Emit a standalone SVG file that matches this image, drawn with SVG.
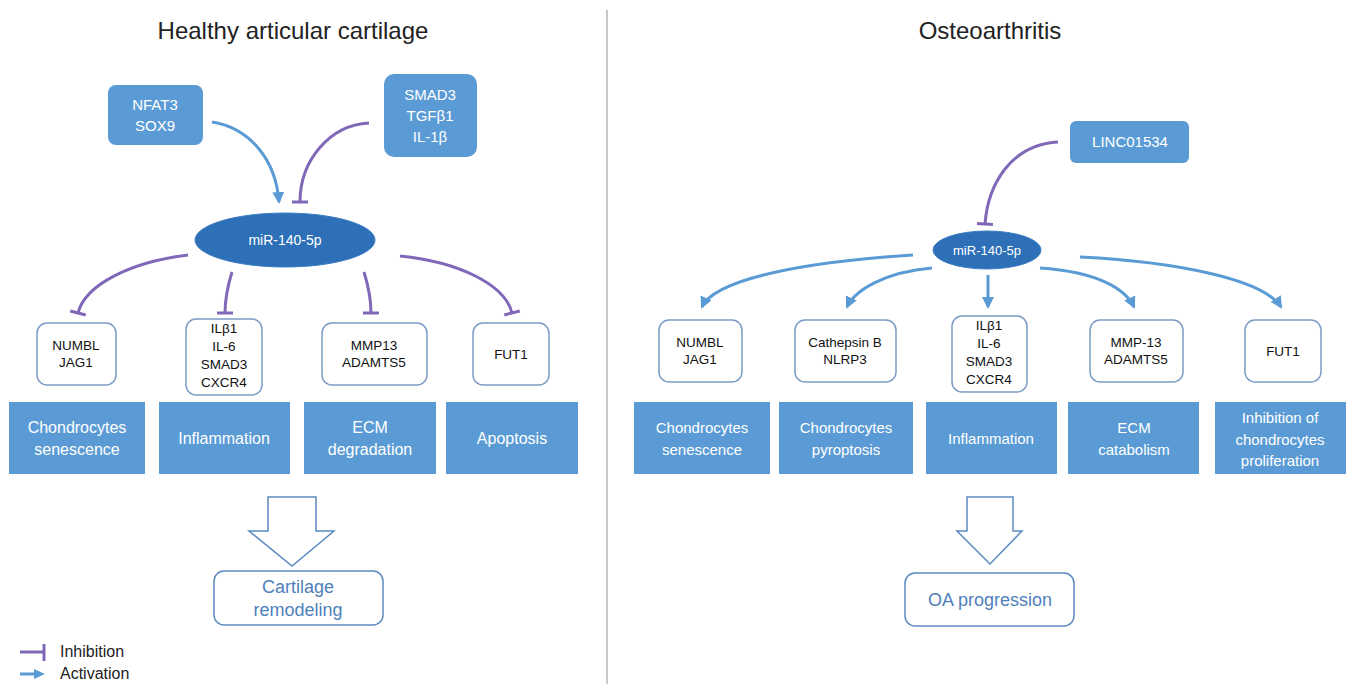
<svg xmlns="http://www.w3.org/2000/svg" width="1349" height="684" viewBox="0 0 1349 684">
<defs>
<style>
text{font-family:"Liberation Sans","Open Sans",sans-serif;text-anchor:middle}
.title{font-size:24px;fill:#222}
.bf{fill:#5b9bd5}
.bt{fill:#fff;font-size:15px}
.bl{fill:#fff;font-size:16px}
.bt2{fill:#fff;font-size:15px}
.sb{fill:#fff;stroke:#7c9cc6;stroke-width:1.5}
.st{fill:#111;font-size:13.5px}
.ell{fill:#2e70b8;stroke:#3a7cc2;stroke-width:1}
.inh{fill:none;stroke:#8068b8;stroke-width:3;marker-end:url(#bar)}
.act{fill:none;stroke:#5b9bd5;stroke-width:3;marker-end:url(#arr)}
.hol{fill:#fff;stroke:#5b8ac0;stroke-width:1.5}
.ot{fill:#4f7fba;font-size:18px}
.lg{fill:#222;font-size:16px;text-anchor:start}
</style>
<marker id="bar" markerUnits="userSpaceOnUse" markerWidth="6" markerHeight="22" refX="3" refY="11" orient="auto">
<path d="M3,3 L3,19" stroke="#8068b8" stroke-width="3"/>
</marker>
<marker id="arr" markerUnits="userSpaceOnUse" markerWidth="14" markerHeight="12" refX="10" refY="6" orient="auto">
<path d="M0,0 L12,6 L0,12 z" fill="#5b9bd5"/>
</marker>
</defs>
<rect width="1349" height="684" fill="#fff"/>
<line x1="607" y1="10" x2="607" y2="684" stroke="#c8c8c8" stroke-width="2"/>
<text class="title" x="293" y="39">Healthy articular cartilage</text>
<text class="title" x="990" y="39">Osteoarthritis</text>

<g id="connectors">
<path class="act" d="M212,122 C250,128 276,160 279,202"/>
<path class="inh" d="M369,123 C330,125 300,160 300,202"/>
<path class="inh" d="M188,255 C130,262 85,285 78,313"/>
<path class="inh" d="M232,272 C228,285 225,300 225,313"/>
<path class="inh" d="M364,272 C368,285 371,300 371,313"/>
<path class="inh" d="M400,256 C460,262 505,285 512,313"/>
<path class="inh" d="M1058,142 C1010,145 988,185 985,224"/>
<path class="act" d="M913,255 C800,262 714,280 702,307"/>
<path class="act" d="M932,268 C885,272 855,290 847,307"/>
<path class="act" d="M988,275 L988,307"/>
<path class="act" d="M1040,268 C1100,272 1126,290 1134,307"/>
<path class="act" d="M1080,257 C1180,262 1264,280 1281,307"/>
</g>

<g id="nfat3"><rect class="bf" x="108" y="85" width="95" height="60" rx="8"/><text class="bt2" x="155" y="110">NFAT3</text><text class="bt2" x="155" y="131">SOX9</text></g>
<g id="smad3top"><rect class="bf" x="384" y="74" width="93" height="83" rx="10"/><text class="bt2" x="430" y="100">SMAD3</text><text class="bt2" x="430" y="121">TGFβ1</text><text class="bt2" x="430" y="142">IL-1β</text></g>
<g id="mir-left"><ellipse class="ell" cx="285" cy="240" rx="90" ry="27"/><text class="bt" x="285" y="245" style="font-size:14px">miR-140-5p</text></g>

<g id="l-numbl"><rect class="sb" x="37" y="323" width="79" height="62" rx="10"/><text class="st" x="76" y="350">NUMBL</text><text class="st" x="76" y="367">JAG1</text></g>
<g id="l-il"><rect class="sb" x="186" y="319" width="76" height="76" rx="10"/><text class="st" x="224" y="333">ILβ1</text><text class="st" x="224" y="351">IL-6</text><text class="st" x="224" y="369">SMAD3</text><text class="st" x="224" y="387">CXCR4</text></g>
<g id="l-mmp"><rect class="sb" x="322" y="323" width="105" height="62" rx="10"/><text class="st" x="374" y="350">MMP13</text><text class="st" x="374" y="367">ADAMTS5</text></g>
<g id="l-fut"><rect class="sb" x="473" y="323" width="76" height="62" rx="10"/><text class="st" x="511" y="359">FUT1</text></g>

<g id="l-sen"><rect class="bf" x="9" y="402" width="136" height="72"/><text class="bl" x="77" y="433">Chondrocytes</text><text class="bl" x="77" y="455">senescence</text></g>
<g id="l-inf"><rect class="bf" x="159" y="402" width="131" height="72"/><text class="bl" x="224" y="444">Inflammation</text></g>
<g id="l-ecm"><rect class="bf" x="304" y="402" width="132" height="72"/><text class="bl" x="370" y="433">ECM</text><text class="bl" x="370" y="455">degradation</text></g>
<g id="l-apo"><rect class="bf" x="446" y="402" width="132" height="72"/><text class="bl" x="512" y="444">Apoptosis</text></g>

<g id="l-bigarrow"><path class="hol" d="M268,497 L316,497 L316,531 L334,531 L292,566 L249,531 L268,531 Z"/></g>
<g id="cartilage"><rect class="hol" x="214" y="571" width="169" height="54" rx="10"/><text class="ot" x="298" y="593">Cartilage</text><text class="ot" x="298" y="616">remodeling</text></g>

<g id="linc"><rect class="bf" x="1070" y="121" width="119" height="42" rx="6"/><text class="bt2" x="1130" y="147">LINC01534</text></g>
<g id="mir-right"><ellipse class="ell" cx="987" cy="250" rx="54" ry="19"/><text class="bt" x="987" y="255" style="font-size:13px">miR-140-5p</text></g>

<g id="r-numbl"><rect class="sb" x="659" y="320" width="83" height="62" rx="10"/><text class="st" x="700" y="347">NUMBL</text><text class="st" x="700" y="364">JAG1</text></g>
<g id="r-cath"><rect class="sb" x="795" y="320" width="101" height="62" rx="10"/><text class="st" x="845" y="347">Cathepsin B</text><text class="st" x="845" y="364">NLRP3</text></g>
<g id="r-il"><rect class="sb" x="952" y="316" width="75" height="76" rx="10"/><text class="st" x="989" y="330">ILβ1</text><text class="st" x="989" y="348">IL-6</text><text class="st" x="989" y="366">SMAD3</text><text class="st" x="989" y="384">CXCR4</text></g>
<g id="r-mmp"><rect class="sb" x="1090" y="320" width="93" height="62" rx="10"/><text class="st" x="1136" y="347">MMP-13</text><text class="st" x="1136" y="364">ADAMTS5</text></g>
<g id="r-fut"><rect class="sb" x="1245" y="320" width="76" height="62" rx="10"/><text class="st" x="1283" y="356">FUT1</text></g>

<g id="r-sen"><rect class="bf" x="634" y="402" width="136" height="72"/><text class="bt" x="702" y="433">Chondrocytes</text><text class="bt" x="702" y="455">senescence</text></g>
<g id="r-pyr"><rect class="bf" x="779" y="402" width="134" height="72"/><text class="bt" x="846" y="433">Chondrocytes</text><text class="bt" x="846" y="455">pyroptosis</text></g>
<g id="r-inf"><rect class="bf" x="926" y="402" width="131" height="72"/><text class="bt" x="991" y="444">Inflammation</text></g>
<g id="r-ecm"><rect class="bf" x="1068" y="402" width="131" height="72"/><text class="bt" x="1134" y="433">ECM</text><text class="bt" x="1134" y="455">catabolism</text></g>
<g id="r-inh"><rect class="bf" x="1215" y="402" width="131" height="72"/><text class="bt" x="1280" y="423">Inhibition of</text><text class="bt" x="1280" y="445">chondrocytes</text><text class="bt" x="1280" y="466">proliferation</text></g>

<g id="r-bigarrow"><path class="hol" d="M967,497 L1013,497 L1013,531 L1022,531 L990,564 L957,531 L967,531 Z"/></g>
<g id="oa"><rect class="hol" x="905" y="573" width="169" height="53" rx="10"/><text class="ot" x="990" y="606">OA progression</text></g>

<g id="legend">
<line x1="20" y1="652" x2="44" y2="652" stroke="#8068b8" stroke-width="3"/>
<line x1="44" y1="644" x2="44" y2="661" stroke="#8068b8" stroke-width="3"/>
<line x1="20" y1="674" x2="36" y2="674" stroke="#5b9bd5" stroke-width="3"/>
<path d="M34,669 L45,674 L34,679 z" fill="#5b9bd5"/>
<text class="lg" x="60" y="657">Inhibition</text>
<text class="lg" x="60" y="679">Activation</text>
</g>
</svg>
